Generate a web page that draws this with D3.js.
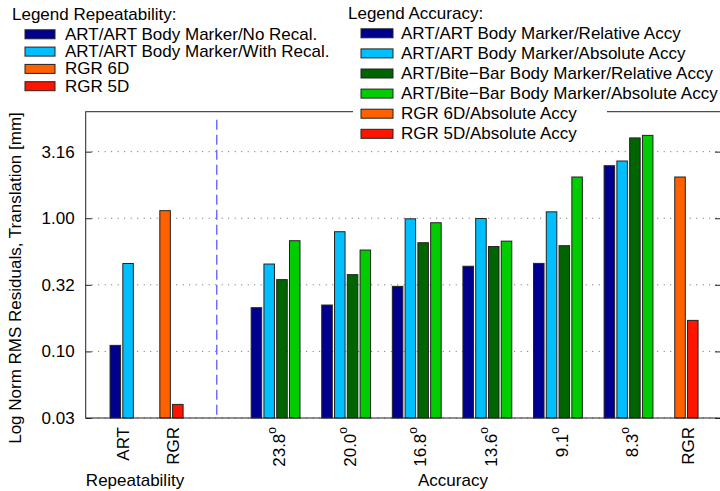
<!DOCTYPE html>
<html>
<head>
<meta charset="utf-8">
<script src="https://cdn.jsdelivr.net/npm/d3@7"></script>
<style>
  html, body { margin: 0; padding: 0; background: #fff; }
  svg { display: block; }
  text { font-family: "Liberation Sans", Arial, Helvetica, sans-serif; fill: #000; }
</style>
</head>
<body>
<script>
// ---------------- DATA ----------------
const repCategories = ["ART", "RGR"];
const accCategories = ["23.8", "20.0", "16.8", "13.6", "9.1", "8.3"];
const accRgrCategory = "RGR";

// Repeatability
const repNoRecal   = [0.111];   // ART/ART Body Marker/No Recal.
const repWithRecal = [0.457];   // ART/ART Body Marker/With Recal.
const rep6D        = [1.14];    // RGR 6D
const rep5D        = [0.040];   // RGR 5D

// Accuracy
const artRelative  = [0.213, 0.223, 0.308, 0.436, 0.458, 2.48];
const artAbsolute  = [0.453, 0.792, 0.990, 0.995, 1.117, 2.69];
const biteRelative = [0.346, 0.377, 0.655, 0.613, 0.622, 4.01];
const biteAbsolute = [0.678, 0.577, 0.925, 0.673, 2.04, 4.19];
const rgr6DAcc     = [2.04];
const rgr5DAcc     = [0.171];

const yTickExponents = [-1.5, -1, -0.5, 0, 0.5];
const yTickLabels    = ["0.03", "0.10", "0.32", "1.00", "3.16"];

const repLegendLabels = ["ART/ART Body Marker/No Recal.", "ART/ART Body Marker/With Recal.", "RGR 6D", "RGR 5D"];
const accLegendLabels = ["ART/ART Body Marker/Relative Accy", "ART/ART Body Marker/Absolute Accy",
  "ART/Bite\u2212Bar Body Marker/Relative Accy", "ART/Bite\u2212Bar Body Marker/Absolute Accy",
  "RGR 6D/Absolute Accy", "RGR 5D/Absolute Accy"];

// ---------------- STYLE / LAYOUT ----------------
const C = {
  navy: "#00008f", sky: "#00bfff", dgreen: "#006400", green: "#00cc00",
  orange: "#ff6000", red: "#ff1400"
};
const W = 720, H = 491;
const plot = { left: 85.7, right: 721, top: 111.7, bottom: 418 };
// slot positions along the x axis (in group-pitch units)
const slot = { repART: 0.51, repRGR: 1.215, divider: 1.857, accFirst: 2.69, accRGR: 8.51, end: 9.0 };
const barPitch = 0.181, barWidth = 0.149;
const FS = 17;

const svg = d3.select("body").append("svg").attr("width", W).attr("height", H);

const x = d3.scaleLinear().domain([0, slot.end]).range([plot.left, plot.right]);
const y = d3.scaleLog().domain([Math.pow(10, -1.5), Math.pow(10, 0.8)]).range([plot.bottom, plot.top]);

// gridlines
const tickVals = yTickExponents.map(e => Math.pow(10, e));
svg.append("g").selectAll("line").data(tickVals).join("line")
  .attr("x1", plot.left + 6).attr("x2", plot.right)
  .attr("y1", d => y(d)).attr("y2", d => y(d))
  .attr("stroke", "#666").attr("stroke-width", 1).attr("stroke-dasharray", "1,5.5");

// bars
const bars = [];
function addGroup(center, seriesList, colors) {
  const n = seriesList.length;
  seriesList.forEach((v, i) => {
    bars.push({ cx: center + (i - (n - 1) / 2) * barPitch, v: v, color: colors[i] });
  });
}
repCategories.forEach((c, i) => {
  if (i === 0) addGroup(slot.repART, [repNoRecal[0], repWithRecal[0]], [C.navy, C.sky]);
  else addGroup(slot.repRGR, [rep6D[0], rep5D[0]], [C.orange, C.red]);
});
accCategories.forEach((c, i) => {
  addGroup(slot.accFirst + i, [artRelative[i], artAbsolute[i], biteRelative[i], biteAbsolute[i]],
    [C.navy, C.sky, C.dgreen, C.green]);
});
addGroup(slot.accRGR, [rgr6DAcc[0], rgr5DAcc[0]], [C.orange, C.red]);

const bw = x(barWidth) - x(0);
svg.append("g").selectAll("rect").data(bars).join("rect")
  .attr("x", d => x(d.cx) - bw / 2)
  .attr("width", bw)
  .attr("y", d => y(d.v))
  .attr("height", d => plot.bottom - y(d.v))
  .attr("fill", d => d.color)
  .attr("stroke", "#222").attr("stroke-width", 1);

// divider dashed line
svg.append("line")
  .attr("x1", x(slot.divider)).attr("x2", x(slot.divider))
  .attr("y1", plot.top + 8).attr("y2", plot.bottom)
  .attr("stroke", "#5a5aff").attr("stroke-width", 1.3).attr("stroke-dasharray", "10,5");

// frame
svg.append("rect")
  .attr("x", plot.left).attr("y", plot.top)
  .attr("width", plot.right - plot.left).attr("height", plot.bottom - plot.top)
  .attr("fill", "none").attr("stroke", "#222").attr("stroke-width", 1);

// y axis (left, ticks inward)
const yAxisL = d3.axisLeft(y).tickValues(tickVals).tickSize(-6).tickPadding(11)
  .tickFormat((d, i) => yTickLabels[i]);
const gL = svg.append("g").attr("transform", `translate(${plot.left},0)`).call(yAxisL);
gL.select(".domain").remove();
gL.selectAll(".tick line").attr("stroke", "#222");
gL.selectAll(".tick text").attr("font-size", FS).attr("font-family", "Liberation Sans, Arial, sans-serif").attr("fill", "#000");

const yAxisR = d3.axisRight(y).tickValues(tickVals).tickSize(-6).tickFormat("");
const gR = svg.append("g").attr("transform", `translate(${plot.right},0)`).call(yAxisR);
gR.select(".domain").remove();
gR.selectAll(".tick line").attr("stroke", "#222");

// x tick labels (rotated)
const xLabels = [
  { pos: slot.repART, text: repCategories[0], deg: false },
  { pos: slot.repRGR, text: repCategories[1], deg: false },
  ...accCategories.map((c, i) => ({ pos: slot.accFirst + i, text: c, deg: true })),
  { pos: slot.accRGR, text: accRgrCategory, deg: false }
];
const xl = svg.append("g").selectAll("text").data(xLabels).join("text")
  .attr("transform", d => `translate(${x(d.pos) + (d.deg ? 3.5 : 1.5)},${plot.bottom + 9}) rotate(-90)`)
  .attr("text-anchor", "end")
  .attr("dy", "0.36em")
  .attr("font-size", FS);
xl.append("tspan").text(d => d.text);
xl.filter(d => d.deg).append("tspan").text("o").attr("font-size", 12).attr("dy", "-0.75em");

// axis titles
svg.append("text").attr("x", 135).attr("y", 480).attr("text-anchor", "middle")
  .attr("dominant-baseline", "central").attr("font-size", FS).text("Repeatability");
svg.append("text").attr("x", 453).attr("y", 480).attr("text-anchor", "middle")
  .attr("dominant-baseline", "central").attr("font-size", FS).text("Accuracy");
svg.append("text").attr("transform", "translate(15,278) rotate(-90)").attr("text-anchor", "middle")
  .attr("dominant-baseline", "central").attr("font-size", FS)
  .text("Log Norm RMS Residuals, Translation [mm]");

// legends
function legend(cfg) {
  const g = svg.append("g");
  g.append("rect").attr("x", cfg.bx).attr("y", 0).attr("width", cfg.bw).attr("height", cfg.bh).attr("fill", "#fff");
  g.append("text").attr("x", cfg.titleX).attr("y", cfg.titleY).attr("dominant-baseline", "central")
    .attr("font-size", FS).text(cfg.title);
  cfg.labels.forEach((lab, i) => {
    const cy = cfg.row0 + i * cfg.step;
    g.append("rect").attr("x", cfg.swX).attr("y", cy - 4.5).attr("width", cfg.swW).attr("height", 9)
      .attr("fill", cfg.colors[i]).attr("stroke", "#222").attr("stroke-width", 1);
    g.append("text").attr("x", cfg.textX).attr("y", cy).attr("dominant-baseline", "central")
      .attr("font-size", FS).text(lab);
  });
}
legend({ bx: 0, bw: 340, bh: 100, title: "Legend Repeatability:", titleX: 12, titleY: 14,
  labels: repLegendLabels, colors: [C.navy, C.sky, C.orange, C.red],
  row0: 34.3, step: 17.3, swX: 25, swW: 30, textX: 65 });
legend({ bx: 353, bw: 254, bh: 145, title: "Legend Accuracy:", titleX: 348, titleY: 13.5,
  labels: accLegendLabels, colors: [C.navy, C.sky, C.dgreen, C.green, C.orange, C.red],
  row0: 33.3, step: 20.1, swX: 361, swW: 32, textX: 401 });
</script>
</body>
</html>
